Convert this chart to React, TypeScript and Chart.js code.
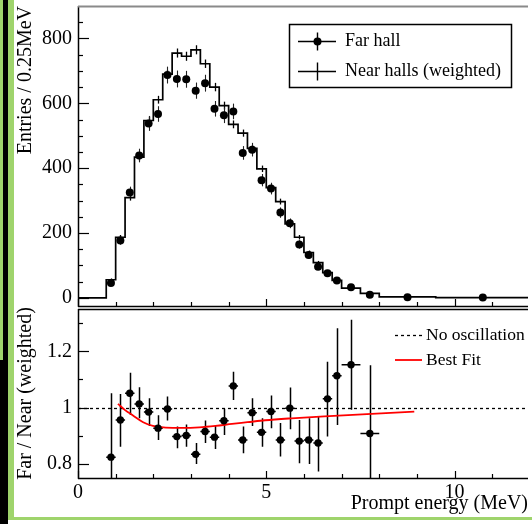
import React, { useEffect, useRef } from "react";
import { Chart, registerables } from "chart.js";

Chart.register(...registerables);

const FONT = "'Liberation Serif', 'Times New Roman', serif";

// ---- data ----
const binEdges = [0.75, 1.0, 1.25, 1.5, 1.75, 2.0, 2.25, 2.5, 2.75, 3.0, 3.25, 3.5, 3.75, 4.0, 4.25, 4.5, 4.75, 5.0, 5.25, 5.5, 5.75, 6.0, 6.25, 6.5, 6.75, 7.0, 7.5, 8.0, 9.5, 12.0];
const binCenters = [0.875, 1.125, 1.375, 1.625, 1.875, 2.125, 2.375, 2.625, 2.875, 3.125, 3.375, 3.625, 3.875, 4.125, 4.375, 4.625, 4.875, 5.125, 5.375, 5.625, 5.875, 6.125, 6.375, 6.625, 6.875, 7.25, 7.75, 8.75, 10.75];
const nearCounts = [56, 187, 309, 434, 547, 611, 690, 755, 745, 765, 722, 650, 593, 535, 508, 461, 398, 340, 297, 228, 187, 140, 109, 78, 54, 30, 14, 3, 1];
const nearErrors = [4, 7, 9, 10, 12, 12, 13, 14, 14, 14, 13, 13, 12, 12, 11, 11, 10, 9, 9, 8, 7, 6, 5, 5, 4, 3, 2, 1, 1];
const farCounts = [46, 177, 325, 439, 538, 567, 687, 675, 674, 639, 662, 583, 563, 575, 447, 457, 363, 337, 263, 230, 165, 132, 96, 76, 54, 33, 10, 2, 1];
const farErrors = [7, 13, 18, 21, 23, 24, 26, 26, 26, 25, 26, 24, 24, 24, 21, 21, 19, 18, 16, 15, 13, 11, 10, 9, 7, 6, 3, 1, 1];

const ratioValues = [0.824, 0.956, 1.051, 1.013, 0.984, 0.927, 0.995, 0.897, 0.901, 0.834, 0.915, 0.895, 0.953, 1.077, 0.885, 0.982, 0.912, 0.986, 0.885, 0.998, 0.881, 0.885, 0.874, 1.031, 1.113, 1.152, 0.908];
const ratioUpper = [1.051, 1.048, 1.124, 1.072, 1.033, 0.973, 1.039, 0.933, 0.94, 0.874, 0.954, 0.935, 0.996, 1.127, 0.933, 1.033, 0.962, 1.043, 0.945, 1.071, 0.956, 0.962, 0.968, 1.163, 1.282, 1.312, 1.15];
const ratioLower = [0.6, 0.861, 0.974, 0.962, 0.935, 0.885, 0.954, 0.856, 0.861, 0.8, 0.874, 0.853, 0.903, 1.027, 0.838, 0.935, 0.861, 0.927, 0.826, 0.923, 0.802, 0.8, 0.773, 0.897, 0.938, 0.992, 0.666];

const fitEnergy = [1.06, 1.25, 1.46, 1.73, 1.99, 2.33, 2.77, 3.22, 3.65, 4.09, 4.5, 4.97, 5.67, 6.54, 7.42, 8.93];
const fitRatio = [1.013, 0.991, 0.972, 0.948, 0.935, 0.929, 0.928, 0.93, 0.935, 0.942, 0.948, 0.955, 0.962, 0.969, 0.975, 0.986];
const noOscillationLevel = 1;

const xRange = [0, 11.95];
const topYRange = [-25, 900];
const botYRange = [0.75, 1.35];
const xMajorTicks = [0, 5, 10];
const xMinorTicks = [1, 2, 3, 4, 6, 7, 8, 9, 11];
const topYMajorTicks = [0, 200, 400, 600, 800];
const topYMinorTicks = [50, 100, 150, 250, 300, 350, 450, 500, 550, 650, 700, 750, 850];
const botYMajorTicks = [0.8, 1, 1.2];
const botYMinorTicks = [0.9, 1.1, 1.3];

const topLegendLabels = ["Far hall", "Near halls (weighted)"];
const botLegendLabels = ["No oscillation", "Best Fit"];

// ---- helpers ----
function drawFrameAndTicks(chart: any, yMajor: number[], yMinor: number[], topGrey: boolean) {
  const { ctx, chartArea, scales } = chart;
  const x = scales.x;
  const y = scales.y;
  const { left, right, top, bottom } = chartArea;
  ctx.save();
  ctx.strokeStyle = "#000";
  ctx.lineWidth = 1.5;
  ctx.beginPath();
  ctx.moveTo(left + 0.5, top);
  ctx.lineTo(left + 0.5, bottom + 1);
  ctx.stroke();
  ctx.beginPath();
  ctx.moveTo(left, bottom + 0.5);
  ctx.lineTo(right, bottom + 0.5);
  ctx.stroke();
  ctx.strokeStyle = topGrey ? "#8a8a8a" : "#000";
  ctx.lineWidth = topGrey ? 2 : 1.5;
  ctx.beginPath();
  ctx.moveTo(left, top + 0.5);
  ctx.lineTo(right, top + 0.5);
  ctx.stroke();
  ctx.strokeStyle = "#000";
  ctx.lineWidth = 1.2;
  const tick = (px: number, py: number, dx: number, dy: number) => {
    ctx.beginPath();
    ctx.moveTo(px, py);
    ctx.lineTo(px + dx, py + dy);
    ctx.stroke();
  };
  xMajorTicks.forEach((v) => tick(Math.round(x.getPixelForValue(v)) + 0.5, bottom, 0, -7));
  xMinorTicks.forEach((v) => tick(Math.round(x.getPixelForValue(v)) + 0.5, bottom, 0, -4));
  yMajor.forEach((v) => tick(left, Math.round(y.getPixelForValue(v)) + 0.5, 11, 0));
  yMinor.forEach((v) => tick(left, Math.round(y.getPixelForValue(v)) + 0.5, 5, 0));
  ctx.restore();
}

function clipArea(ctx: any, a: any) {
  ctx.beginPath();
  ctx.rect(a.left, a.top, a.right - a.left, a.bottom - a.top);
  ctx.clip();
}

const topPlugin = {
  id: "topDecor",
  beforeDatasetsDraw(chart: any) {
    const { ctx, chartArea, scales } = chart;
    const x = scales.x;
    const y = scales.y;
    ctx.save();
    clipArea(ctx, chartArea);
    ctx.strokeStyle = "#000";
    ctx.lineWidth = 1.3;
    binCenters.forEach((e, i) => {
      const px = Math.round(x.getPixelForValue(e)) + 0.5;
      ctx.beginPath();
      ctx.moveTo(px, y.getPixelForValue(nearCounts[i] - nearErrors[i]));
      ctx.lineTo(px, y.getPixelForValue(nearCounts[i] + nearErrors[i]));
      ctx.stroke();
    });
    ctx.strokeStyle = "#222";
    ctx.lineWidth = 1.1;
    binCenters.forEach((e, i) => {
      const px = Math.round(x.getPixelForValue(e)) + 0.5;
      ctx.beginPath();
      ctx.moveTo(px, y.getPixelForValue(farCounts[i] - farErrors[i]));
      ctx.lineTo(px, y.getPixelForValue(farCounts[i] + farErrors[i]));
      ctx.stroke();
    });
    ctx.restore();
  },
  afterDraw(chart: any) {
    drawFrameAndTicks(chart, topYMajorTicks, topYMinorTicks, true);
    const { ctx } = chart;
    ctx.save();
    ctx.strokeStyle = "#000";
    ctx.lineWidth = 1.5;
    ctx.strokeRect(289.5, 24.5, 222, 63);
    const rows = [41.5, 71.5];
    ctx.lineWidth = 1.4;
    rows.forEach((ry, i) => {
      ctx.beginPath();
      ctx.moveTo(298, ry);
      ctx.lineTo(336, ry);
      ctx.moveTo(317.5, ry - 9);
      ctx.lineTo(317.5, ry + 9);
      ctx.stroke();
      if (i === 0) {
        ctx.fillStyle = "#000";
        ctx.beginPath();
        ctx.arc(317.5, ry, 4, 0, Math.PI * 2);
        ctx.fill();
      }
      ctx.fillStyle = "#000";
      ctx.font = `18px ${FONT}`;
      ctx.textBaseline = "middle";
      ctx.textAlign = "left";
      ctx.fillText(topLegendLabels[i], 345, ry);
    });
    ctx.restore();
  },
};

const botPlugin = {
  id: "botDecor",
  beforeDatasetsDraw(chart: any) {
    const { ctx, chartArea, scales } = chart;
    const x = scales.x;
    const y = scales.y;
    ctx.save();
    clipArea(ctx, chartArea);
    ctx.strokeStyle = "#000";
    ctx.lineWidth = 1.3;
    ctx.setLineDash([3, 3]);
    const py1 = Math.round(y.getPixelForValue(noOscillationLevel)) + 0.5;
    ctx.beginPath();
    ctx.moveTo(chartArea.left, py1);
    ctx.lineTo(chartArea.right, py1);
    ctx.stroke();
    ctx.setLineDash([]);
    ctx.lineWidth = 1.5;
    ratioValues.forEach((v, i) => {
      const px = Math.round(x.getPixelForValue(binCenters[i])) + 0.5;
      const py = y.getPixelForValue(v);
      ctx.beginPath();
      ctx.moveTo(px, y.getPixelForValue(ratioLower[i]));
      ctx.lineTo(px, y.getPixelForValue(ratioUpper[i]));
      ctx.moveTo(x.getPixelForValue(binEdges[i]), py);
      ctx.lineTo(x.getPixelForValue(binEdges[i + 1]), py);
      ctx.stroke();
    });
    ctx.restore();
  },
  afterDraw(chart: any) {
    drawFrameAndTicks(chart, botYMajorTicks, botYMinorTicks, false);
    const { ctx } = chart;
    ctx.save();
    ctx.strokeStyle = "#000";
    ctx.lineWidth = 1.3;
    ctx.setLineDash([3, 3]);
    ctx.beginPath();
    ctx.moveTo(395, 35.5);
    ctx.lineTo(422, 35.5);
    ctx.stroke();
    ctx.setLineDash([]);
    ctx.strokeStyle = "#ff0000";
    ctx.lineWidth = 1.8;
    ctx.beginPath();
    ctx.moveTo(395, 60);
    ctx.lineTo(422, 60);
    ctx.stroke();
    ctx.fillStyle = "#000";
    ctx.font = `17.5px ${FONT}`;
    ctx.textBaseline = "middle";
    ctx.textAlign = "left";
    ctx.fillText(botLegendLabels[0], 426, 35);
    ctx.fillText(botLegendLabels[1], 426, 60);
    ctx.restore();
  },
};

const tickFont = { family: FONT, size: 20 };

export default function App() {
  const topRef = useRef<HTMLCanvasElement>(null);
  const botRef = useRef<HTMLCanvasElement>(null);

  useEffect(() => {
    const nearStep = [{ x: xRange[0], y: 0 }].concat(
      binEdges.map((e, i) => ({ x: e, y: i === 0 ? 0 : nearCounts[i - 1] }))
    );
    const farPts = binCenters.map((e, i) => ({ x: e, y: farCounts[i] }));

    const top = new Chart(topRef.current as HTMLCanvasElement, {
      type: "line",
      data: {
        datasets: [
          {
            type: "line",
            label: "Near halls (weighted)",
            data: nearStep,
            stepped: "after",
            borderColor: "#000",
            borderWidth: 1.7,
            pointRadius: 0,
            fill: false,
            order: 2,
          } as any,
          {
            type: "scatter",
            label: "Far hall",
            data: farPts,
            pointRadius: 4,
            pointBackgroundColor: "#000",
            pointBorderWidth: 0,
            showLine: false,
            order: 1,
          } as any,
        ],
      },
      options: {
        responsive: false,
        animation: false,
        events: [],
        layout: { padding: { top: 6, bottom: 1, left: 0, right: 0 } },
        plugins: { legend: { display: false }, tooltip: { enabled: false } },
        scales: {
          x: {
            type: "linear",
            min: xRange[0],
            max: xRange[1],
            display: false,
          },
          y: {
            type: "linear",
            min: topYRange[0],
            max: topYRange[1],
            afterBuildTicks: (s: any) => {
              s.ticks = topYMajorTicks.map((v) => ({ value: v }));
            },
            afterFit: (s: any) => {
              s.width = 78;
              s.paddingTop = 0;
              s.paddingBottom = 0;
            },
            grid: { display: false, drawTicks: false },
            border: { display: false },
            ticks: { font: tickFont, color: "#000", padding: 6, callback: (v: any) => String(v) },
            title: {
              display: true,
              text: "Entries / 0.25MeV",
              align: "end",
              font: tickFont,
              color: "#000",
              padding: { top: 14, bottom: 0 },
            },
          },
        },
      } as any,
      plugins: [topPlugin],
    });

    const bot = new Chart(botRef.current as HTMLCanvasElement, {
      type: "line",
      data: {
        datasets: [
          {
            type: "line",
            label: "Best Fit",
            data: fitEnergy.map((e, i) => ({ x: e, y: fitRatio[i] })),
            borderColor: "#ff0000",
            borderWidth: 1.8,
            pointRadius: 0,
            cubicInterpolationMode: "monotone",
            fill: false,
            order: 2,
          } as any,
          {
            type: "scatter",
            label: "Far / Near",
            data: ratioValues.map((v, i) => ({ x: binCenters[i], y: v })),
            pointRadius: 3.7,
            pointBackgroundColor: "#000",
            pointBorderWidth: 0,
            showLine: false,
            order: 1,
          } as any,
        ],
      },
      options: {
        responsive: false,
        animation: false,
        events: [],
        layout: { padding: { top: 9, bottom: 0, left: 0, right: 0 } },
        plugins: { legend: { display: false }, tooltip: { enabled: false } },
        scales: {
          x: {
            type: "linear",
            min: xRange[0],
            max: xRange[1],
            afterBuildTicks: (s: any) => {
              s.ticks = xMajorTicks.map((v) => ({ value: v }));
            },
            afterFit: (s: any) => {
              s.height = 46;
              s.paddingLeft = 0;
              s.paddingRight = 0;
            },
            grid: { display: false, drawTicks: false },
            border: { display: false },
            ticks: { font: tickFont, color: "#000", padding: 3, maxRotation: 0, callback: (v: any) => String(v) },
            title: {
              display: true,
              text: "Prompt energy (MeV)",
              align: "end",
              font: tickFont,
              color: "#000",
              padding: { top: 0, bottom: 8 },
            },
          },
          y: {
            type: "linear",
            min: botYRange[0],
            max: botYRange[1],
            afterBuildTicks: (s: any) => {
              s.ticks = botYMajorTicks.map((v) => ({ value: v }));
            },
            afterFit: (s: any) => {
              s.width = 78;
              s.paddingTop = 0;
              s.paddingBottom = 0;
            },
            grid: { display: false, drawTicks: false },
            border: { display: false },
            ticks: { font: tickFont, color: "#000", padding: 6, callback: (v: any) => String(+v) },
            title: {
              display: true,
              text: "Far / Near (weighted)",
              align: "center",
              font: tickFont,
              color: "#000",
              padding: { top: 14, bottom: 0 },
            },
          },
        },
      } as any,
      plugins: [botPlugin],
    });

    return () => {
      top.destroy();
      bot.destroy();
    };
  }, []);

  return (
    <div style={{ position: "fixed", left: 0, top: 0, width: 532, height: 524, background: "#fff", overflow: "hidden" }}>
      <canvas ref={topRef} width={532} height={310} style={{ position: "absolute", left: 0, top: 0, width: 532, height: 310 }} />
      <canvas ref={botRef} width={532} height={224} style={{ position: "absolute", left: 0, top: 300, width: 532, height: 224 }} />
      <div style={{ position: "absolute", left: 0, top: 0, width: 3, height: 360, background: "#9fd46c" }} />
      <div style={{ position: "absolute", left: 3, top: 0, width: 5, height: 524, background: "#000" }} />
      <div style={{ position: "absolute", left: 0, top: 360, width: 3, height: 164, background: "#000" }} />
      <div style={{ position: "absolute", left: 8, top: 0, width: 6, height: 520, background: "#9fd46c" }} />
      <div style={{ position: "absolute", left: 8, top: 517, width: 524, height: 3, background: "#9fd46c" }} />
    </div>
  );
}
